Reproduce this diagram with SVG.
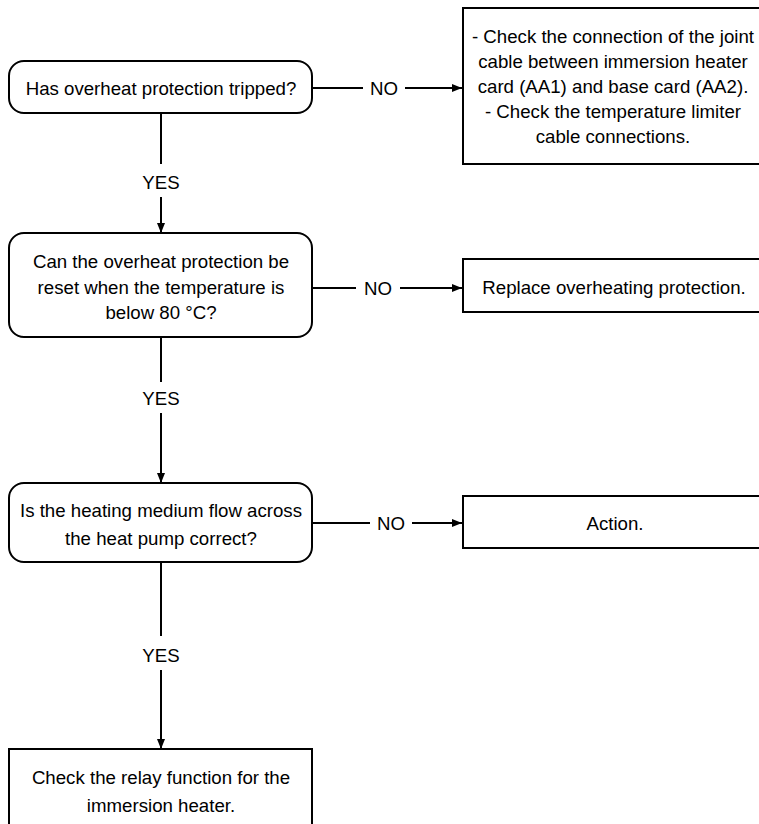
<svg xmlns="http://www.w3.org/2000/svg" width="759" height="824" viewBox="0 0 759 824">
  <style>
    .box { fill: #ffffff; stroke: #000000; stroke-width: 2; }
    .lbl { font-family: "Liberation Sans", Arial, sans-serif; font-size: 18.67px; fill: #000000; text-anchor: middle; }
    .wire { fill: none; stroke: #000000; stroke-width: 2; }
  </style>
  <defs>
    <marker id="arrow" viewBox="0 0 10 8" refX="10" refY="4" markerWidth="10" markerHeight="8" markerUnits="userSpaceOnUse" orient="auto">
      <path d="M0,0 L10,4 L0,8 Z" fill="#000000"/>
    </marker>
  </defs>
  <rect width="759" height="824" fill="#ffffff"/>

  <!-- connectors -->
  <g id="connectors">
    <!-- tripped? NO -->
    <line class="wire" x1="312" y1="88" x2="363" y2="88"/>
    <line class="wire" x1="405" y1="88" x2="462" y2="88" marker-end="url(#arrow)"/>
    <text class="lbl" x="384" y="95">NO</text>
    <!-- tripped? YES -->
    <line class="wire" x1="161" y1="113" x2="161" y2="164"/>
    <line class="wire" x1="161" y1="197" x2="161" y2="233" marker-end="url(#arrow)"/>
    <text class="lbl" x="161" y="189">YES</text>

    <!-- reset? NO -->
    <line class="wire" x1="312" y1="288" x2="356" y2="288"/>
    <line class="wire" x1="400" y1="288" x2="462" y2="288" marker-end="url(#arrow)"/>
    <text class="lbl" x="378" y="295">NO</text>
    <!-- reset? YES -->
    <line class="wire" x1="161" y1="337" x2="161" y2="382"/>
    <line class="wire" x1="161" y1="413" x2="161" y2="483" marker-end="url(#arrow)"/>
    <text class="lbl" x="161" y="405">YES</text>

    <!-- flow? NO -->
    <line class="wire" x1="312" y1="523" x2="370" y2="523"/>
    <line class="wire" x1="412" y1="523" x2="462" y2="523" marker-end="url(#arrow)"/>
    <text class="lbl" x="391" y="530">NO</text>
    <!-- flow? YES -->
    <line class="wire" x1="161" y1="562" x2="161" y2="636"/>
    <line class="wire" x1="161" y1="670" x2="161" y2="749" marker-end="url(#arrow)"/>
    <text class="lbl" x="161" y="662">YES</text>
  </g>

  <!-- decisions -->
  <g id="q-tripped">
    <rect class="box" x="9" y="61" width="303" height="52" rx="15" ry="15"/>
    <text class="lbl" x="161" y="95">Has overheat protection tripped?</text>
  </g>

  <g id="q-reset">
    <rect class="box" x="9" y="233" width="303" height="104" rx="15" ry="15"/>
    <text class="lbl" x="161" y="268">Can the overheat protection be</text>
    <text class="lbl" x="161" y="294">reset when the temperature is</text>
    <text class="lbl" x="161" y="319">below 80 °C?</text>
  </g>

  <g id="q-flow">
    <rect class="box" x="9" y="483" width="303" height="79" rx="15" ry="15"/>
    <text class="lbl" x="161" y="517">Is the heating medium flow across</text>
    <text class="lbl" x="161" y="545">the heat pump correct?</text>
  </g>

  <!-- actions (right edges run past the page) -->
  <g id="a-cables">
    <rect class="box" x="463" y="8" width="302" height="156"/>
    <text class="lbl" x="613" y="43">- Check the connection of the joint</text>
    <text class="lbl" x="613" y="68">cable between immersion heater</text>
    <text class="lbl" x="613" y="93">card (AA1) and base card (AA2).</text>
    <text class="lbl" x="613" y="118">- Check the temperature limiter</text>
    <text class="lbl" x="613" y="143">cable connections.</text>
  </g>

  <g id="a-replace">
    <rect class="box" x="463" y="259" width="302" height="53"/>
    <text class="lbl" x="614" y="294">Replace overheating protection.</text>
  </g>

  <g id="a-action">
    <rect class="box" x="463" y="496" width="302" height="52"/>
    <text class="lbl" x="615" y="530">Action.</text>
  </g>

  <g id="a-relay">
    <rect class="box" x="9" y="749" width="303" height="80"/>
    <text class="lbl" x="161" y="784">Check the relay function for the</text>
    <text class="lbl" x="161" y="812">immersion heater.</text>
  </g>
</svg>
